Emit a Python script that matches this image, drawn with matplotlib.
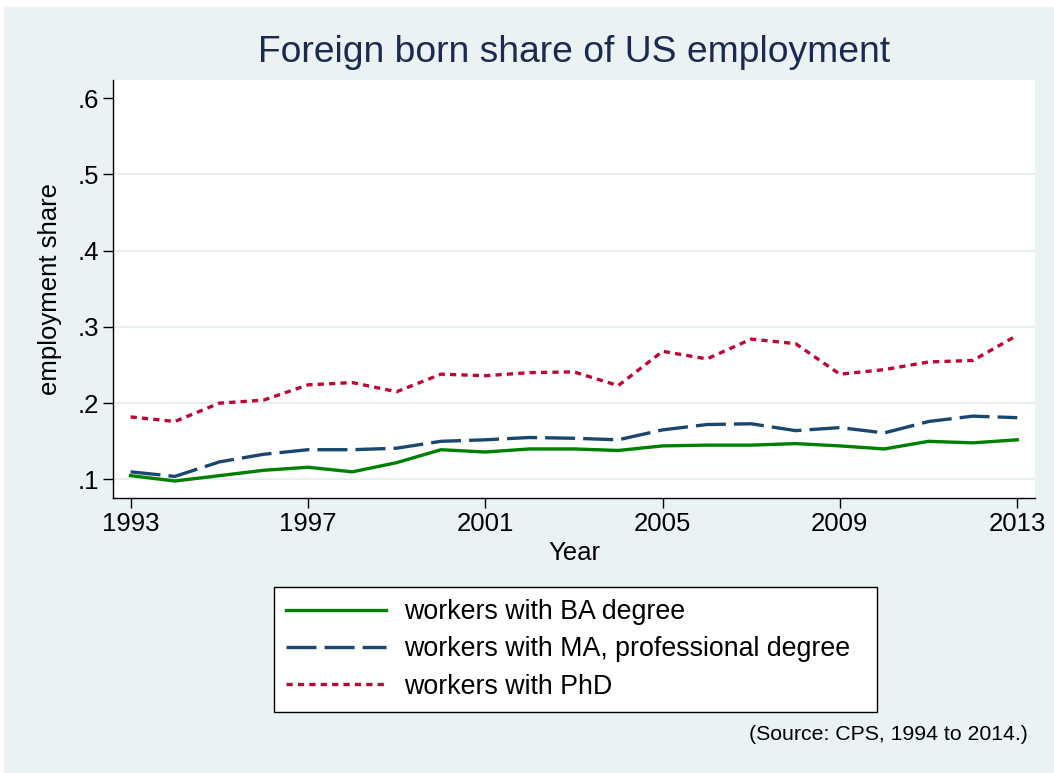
import matplotlib
matplotlib.use("Agg")
import matplotlib.pyplot as plt
from matplotlib.patches import Rectangle

plt.rcParams['font.family'] = ['Liberation Sans', 'DejaVu Sans']
plt.rcParams['lines.scale_dashes'] = False

years = list(range(1993, 2014))
ba = [0.105, 0.098, 0.105, 0.112, 0.116, 0.110, 0.122, 0.139, 0.136, 0.140, 0.140,
      0.138, 0.144, 0.145, 0.145, 0.147, 0.144, 0.140, 0.150, 0.148, 0.152]
ma = [0.110, 0.104, 0.123, 0.133, 0.139, 0.139, 0.141, 0.150, 0.152, 0.155, 0.154,
      0.152, 0.165, 0.172, 0.173, 0.164, 0.168, 0.161, 0.176, 0.183, 0.181]
phd = [0.182, 0.176, 0.200, 0.204, 0.224, 0.227, 0.215, 0.238, 0.236, 0.240, 0.241,
       0.223, 0.268, 0.258, 0.284, 0.278, 0.238, 0.244, 0.254, 0.256, 0.289]
labels = ["workers with BA degree", "workers with MA, professional degree", "workers with PhD"]
yticks = [0.1, 0.2, 0.3, 0.4, 0.5, 0.6]
ytick_labels = [".1", ".2", ".3", ".4", ".5", ".6"]
xticks = [1993, 1997, 2001, 2005, 2009, 2013]

W, H = 1054, 773
fig = plt.figure(figsize=(W / 100, H / 100), dpi=100, facecolor='white')
bg = '#EAF2F3'
rect = Rectangle((4 / W, 0), 1 - 4 / W, 1 - 7 / H, transform=fig.transFigure,
                 facecolor=bg, edgecolor='none', zorder=-10)
fig.add_artist(rect)

ax = fig.add_axes([113.3 / W, 1 - 497.7 / H, (1035 - 113.3) / W, (497.7 - 80) / H])
ax.set_facecolor('white')
ax.set_zorder(1)

lw = 2.4
ax.plot(years, ba, color='#008000', lw=lw, label=labels[0], solid_joinstyle='round')
ax.plot(years, ma, color='#1A476F', lw=lw, label=labels[1], dashes=(21.6, 5.8))
ax.plot(years, phd, color='#C10534', lw=lw, label=labels[2], dashes=(4.5, 3.7))

ax.set_xlim(1992.61, 2013.40)
ax.set_ylim(0.0761, 0.6236)
ax.set_yticks(yticks)
ax.set_yticklabels(ytick_labels)
ax.set_xticks(xticks)
for y in yticks[:-1]:
    ax.axhline(y, color='#E6EEF0', lw=1.3, zorder=0)

for s in ['top', 'right']:
    ax.spines[s].set_visible(False)
for s in ['left', 'bottom']:
    ax.spines[s].set_color('black')
    ax.spines[s].set_linewidth(1.0)
fs = 18.5
ax.tick_params(axis='both', direction='out', length=7.5, width=1.0, color='black',
               labelsize=fs, pad=3, labelcolor='black')

ax.set_ylabel('employment share', fontsize=fs, labelpad=11)
ax.set_xlabel('Year', fontsize=fs, labelpad=3.5)

fig.text(574 / W, 1 - 52 / H, 'Foreign born share of US employment', ha='center', va='center',
         fontsize=26.8, color='#1A2A50')

leg = fig.legend(loc='upper left',
                 bbox_to_anchor=(274 / W, 1 - 709 / H, (877 - 274) / W, (709 - 587) / H),
                 mode='expand', borderaxespad=0, fontsize=19.3, handlelength=3.73,
                 handletextpad=0.67, labelspacing=0.42, borderpad=0.45, fancybox=False,
                 frameon=True)
leg.get_frame().set_edgecolor('black')
leg.get_frame().set_linewidth(1.0)
leg.get_frame().set_facecolor('white')
leg.get_frame().set_alpha(1)
leg.set_zorder(2)

fig.text(1028 / W, 1 - 735 / H, '(Source: CPS, 1994 to 2014.)', ha='right', va='center',
         fontsize=15.3, color='black')

fig.savefig('out.png', dpi=100, facecolor=fig.get_facecolor())
